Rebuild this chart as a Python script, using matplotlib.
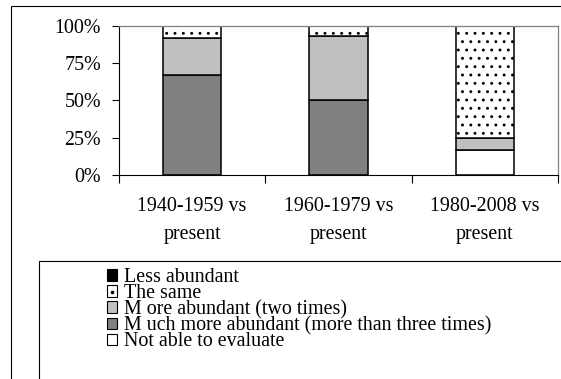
import matplotlib
matplotlib.use("Agg")
import matplotlib.pyplot as plt
from matplotlib.lines import Line2D
from matplotlib.patches import Patch, Rectangle

plt.rcParams["font.family"] = ["Liberation Serif", "DejaVu Serif"]
plt.rcParams["hatch.linewidth"] = 0.9

categories = ["1940-1959 vs\npresent", "1960-1979 vs\npresent",
              "1980-2008 vs\npresent"]
yticks = [0, 25, 50, 75, 100]

# percentages per category, stacked bottom to top
not_able = [0.0, 0.0, 16.7]
much_more = [66.7, 50.0, 0.0]
more = [25.0, 42.9, 8.3]
same = [8.3, 7.1, 75.0]
less = [0.0, 0.0, 0.0]

W, H, DPI = 561, 379, 100
fig = plt.figure(figsize=(W / DPI, H / DPI), dpi=DPI)


def px(x, y):
    return x / W, 1 - y / H


# outer chart border and legend box (both run off the image edge)
fig.patches.append(Rectangle(px(11, 420), 1.2, (420 - 6) / H, fill=False,
                             ec="black", lw=0.8, transform=fig.transFigure))
fig.patches.append(Rectangle(px(39, 420), 1.2, (420 - 261) / H, fill=False,
                             ec="black", lw=0.8, transform=fig.transFigure))

l, b = px(119, 175)
ax = fig.add_axes([l, b, (558 - 119) / W, (175 - 25.7) / H])

x = list(range(len(categories)))
bw = 0.4
bottom = [0.0] * len(x)
series = [
    (not_able, dict(color="white")),
    (much_more, dict(color="#808080")),
    (more, dict(color="#C0C0C0")),
    (same, dict(color="white", hatch="..")),
    (less, dict(color="black")),
]
for vals, style in series:
    bars = [(xi, v, bt) for xi, v, bt in zip(x, vals, bottom) if v > 0]
    if bars:
        ax.bar([t[0] for t in bars], [t[1] for t in bars], width=bw,
               bottom=[t[2] for t in bars], edgecolor="black", linewidth=1.1,
               **style)
    bottom = [bt + v for bt, v in zip(bottom, vals)]

ax.set_xlim(-0.5, 2.5)
ax.set_ylim(0, 100)
ax.set_yticks(yticks)
ax.set_yticklabels([f"{v}%" for v in yticks])
ax.set_xticks([-0.5, 0.5, 1.5, 2.5])
ax.set_xticklabels([])
ax.set_xticks(x, minor=True)
ax.set_xticklabels(categories, minor=True, linespacing=1.62)
ax.tick_params(axis="y", direction="out", length=5, width=0.8, pad=8,
               labelsize=14.4)
ax.tick_params(axis="x", which="major", direction="out", length=5.8,
               width=0.8)
ax.tick_params(axis="x", which="minor", length=0, pad=16, labelsize=14.4)
for side in ("top", "right"):
    ax.spines[side].set_color("#808080")
    ax.spines[side].set_linewidth(0.9)
for side in ("left", "bottom"):
    ax.spines[side].set_color("black")
    ax.spines[side].set_linewidth(0.8)

dot = Line2D([], [], ls="", marker="o", markersize=1.6, color="black")
handles = [
    Patch(facecolor="black", edgecolor="black", lw=0.8),
    (Patch(facecolor="white", edgecolor="black", lw=0.8), dot),
    Patch(facecolor="#C0C0C0", edgecolor="black", lw=0.8),
    Patch(facecolor="#808080", edgecolor="black", lw=0.8),
    Patch(facecolor="white", edgecolor="black", lw=0.8),
]
labels = ["Less abundant", "The same", "M ore abundant (two times)",
          "M uch more abundant (more than three times)", "Not able to evaluate"]
fig.legend(handles, labels, loc="upper left", bbox_to_anchor=px(107, 268),
           frameon=False, fontsize=14.4, handlelength=0.5, handleheight=0.5,
           handletextpad=0.35, labelspacing=-0.15, borderpad=0,
           borderaxespad=0)

fig.savefig("out.png", dpi=DPI)
